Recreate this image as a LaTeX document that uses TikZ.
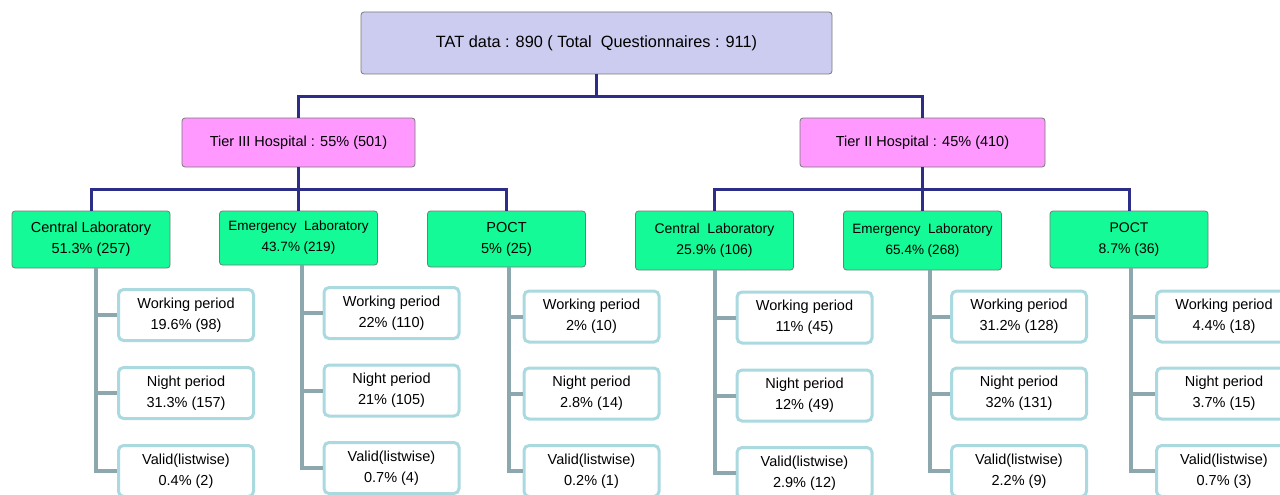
\documentclass[tikz,border=0pt]{standalone}
\usepackage{fontspec}
\setmainfont{Liberation Sans}
\usetikzlibrary{calc}
\definecolor{navy}{RGB}{43,45,135}
\definecolor{stemc}{RGB}{140,168,174}
\definecolor{leafb}{RGB}{170,218,224}
\definecolor{topf}{RGB}{204,204,240}
\definecolor{pinkf}{RGB}{255,153,255}
\definecolor{greenf}{RGB}{20,250,150}
\definecolor{edgec}{RGB}{120,120,120}
\begin{document}
\begin{tikzpicture}[x=1pt,y=-1pt,
  box/.style={draw=edgec,line width=0.8pt,rounded corners=3pt,align=center,inner sep=0pt,font=\fontsize{14.5}{21}\selectfont},
  topbox/.style={box,fill=topf,minimum width=471pt,minimum height=62pt,font=\fontsize{16.3}{21}\selectfont},
  tierbox/.style={box,fill=pinkf,minimum height=49pt},
  labbox/.style={box,fill=greenf,minimum width=158pt},
  leafbox/.style={draw=leafb,line width=3pt,fill=white,rounded corners=5pt,align=center,inner sep=0pt,minimum width=135pt,minimum height=51pt,font=\fontsize{14.5}{21}\selectfont},
  tree/.style={draw=navy,line width=3pt},
  stem/.style={draw=stemc,line width=4pt}]
\useasboundingbox (0,0) rectangle (1280,495);
\clip (0,0) rectangle (1280,495);

% top and tiers
\node[topbox] (top) at (596.5,43) {TAT data : 890 ( Total\ \ Questionnaires : 911)};
\node[tierbox,minimum width=233pt] (t3) at (298.5,142.5) {Tier III Hospital : 55\% (501)};
\node[tierbox,minimum width=245pt] (t2) at (922.5,142.5) {Tier II Hospital : 45\% (410)};

% labs
\node[labbox,minimum height=57pt] (c1) at (91,239.5) {Central Laboratory\\51.3\% (257)};
\node[labbox,minimum height=54pt,font=\fontsize{13.5}{21}\selectfont] (c2) at (298.5,238) {Emergency\ \ Laboratory\\43.7\% (219)};
\node[labbox,minimum height=56pt] (c3) at (506.5,239) {POCT\\5\% (25)};
\node[labbox,minimum height=59pt,font=\fontsize{14}{21}\selectfont] (c4) at (714.5,240.5) {Central\ \ Laboratory\\25.9\% (106)};
\node[labbox,minimum height=59pt,font=\fontsize{13.5}{21}\selectfont] (c5) at (922.5,240.5) {Emergency\ \ Laboratory\\65.4\% (268)};
\node[labbox,minimum height=57pt,font=\fontsize{14}{21}\selectfont] (c6) at (1129,239.5) {POCT\\8.7\% (36)};

% tree connectors
\coordinate (b0) at (596.5,96);
\coordinate (b3) at (298.5,189);
\coordinate (b2) at (922.5,189);
\draw[tree] (top.south) -- (b0);
\draw[tree] (t3.north) |- (b0) -| (t2.north);
\draw[tree] (t3.south) -- (b3);
\draw[tree] (c1.north) |- (b3) -| (c3.north);
\draw[tree] (b3) -- (c2.north);
\draw[tree] (t2.south) -- (b2);
\draw[tree] (c4.north) |- (b2) -| (c6.north);
\draw[tree] (b2) -- (c5.north);

% leaves
\node[leafbox] (c1w) at (186,315) {Working period\\19.6\% (98)};
\node[leafbox] (c1n) at (186,393) {Night period\\31.3\% (157)};
\node[leafbox] (c1v) at (186,471) {Valid(listwise)\\0.4\% (2)};
\node[leafbox] (c2w) at (391.5,313) {Working period\\22\% (110)};
\node[leafbox] (c2n) at (391.5,390.5) {Night period\\21\% (105)};
\node[leafbox] (c2v) at (391.5,468) {Valid(listwise)\\0.7\% (4)};
\node[leafbox] (c3w) at (591.5,316.5) {Working period\\2\% (10)};
\node[leafbox] (c3n) at (591.5,393.5) {Night period\\2.8\% (14)};
\node[leafbox] (c3v) at (591.5,471) {Valid(listwise)\\0.2\% (1)};
\node[leafbox] (c4w) at (804.5,317.5) {Working period\\11\% (45)};
\node[leafbox] (c4n) at (804.5,395.5) {Night period\\12\% (49)};
\node[leafbox] (c4v) at (804.5,473) {Valid(listwise)\\2.9\% (12)};
\node[leafbox] (c5w) at (1019,316.5) {Working period\\31.2\% (128)};
\node[leafbox] (c5n) at (1019,393.5) {Night period\\32\% (131)};
\node[leafbox] (c5v) at (1019,471) {Valid(listwise)\\2.2\% (9)};
\node[leafbox] (c6w) at (1224,316.5) {Working period\\4.4\% (18)};
\node[leafbox] (c6n) at (1224,393.5) {Night period\\3.7\% (15)};
\node[leafbox] (c6v) at (1224,471) {Valid(listwise)\\0.7\% (3)};

% stems
\coordinate (s1) at ($(c1.south)+(5,0)$);
\coordinate (s2) at ($(c2.south)+(3.5,0)$);
\coordinate (s3) at ($(c3.south)+(2.5,0)$);
\coordinate (s4) at ($(c4.south)+(0.5,0)$);
\coordinate (s5) at ($(c5.south)+(7.5,0)$);
\coordinate (s6) at ($(c6.south)+(2,0)$);
\foreach \i in {1,...,6}{
  \draw[stem] (s\i) |- (c\i v.west);
  \draw[stem] (s\i |- c\i w.west) -- (c\i w.west);
  \draw[stem] (s\i |- c\i n.west) -- (c\i n.west);
}
\end{tikzpicture}
\end{document}
